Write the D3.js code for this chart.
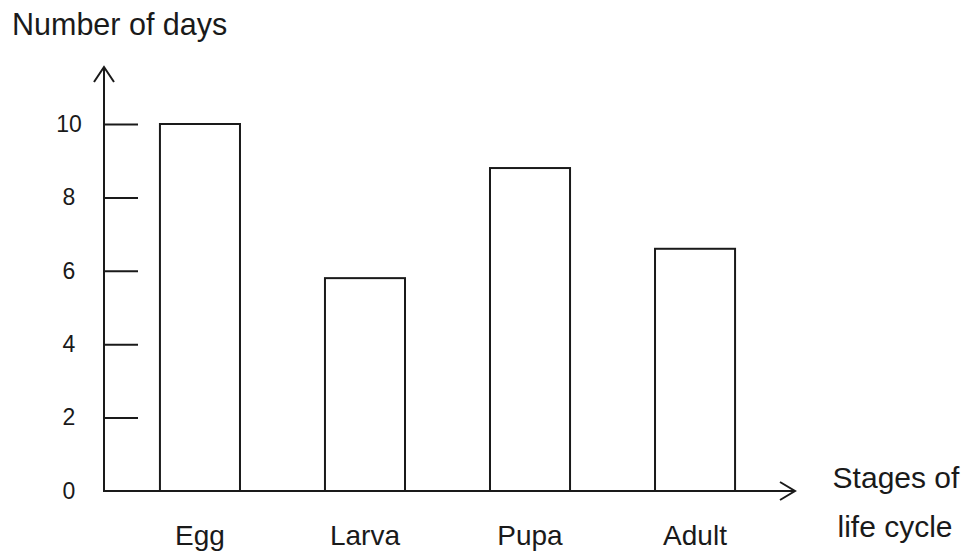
<!DOCTYPE html>
<html>

<head>
    <meta charset="utf-8">
    <style>
        body {
            margin: 0;
            background: white;
            font-family: 'Liberation Sans', Arial, sans-serif;
        }

        svg {
            display: block;
        }

        .tick line {
            stroke: #1a1a1a;
            stroke-width: 2;
        }

        .tick text {
            font-size: 23px;
            fill: #1a1a1a;
        }
    </style>
</head>

<body>
    <svg width="972" height="557"></svg>
</body>

<script src="https://d3js.org/d3.v7.min.js"></script>

<script>
    // stages and days
    let stages = ["Egg", "Larva", "Pupa", "Adult"]
    let days = [10, 5.8, 8.8, 6.6]
    let yTicks = [0, 2, 4, 6, 8, 10]

    let svg = d3.select("svg")
    let ink = "#1a1a1a"

    let x0 = 104
    let baseY = 491

    let x = d3.scaleBand()
        .domain(stages)
        .range([x0, 791])
        .paddingInner(0.515)
        .paddingOuter(0.339)

    let y = d3.scaleLinear()
        .domain([0, 10])
        .range([baseY, 124])

    // y ticks point into the plot, labels sit left of the axis
    let yAxis = svg.append("g")
        .attr("transform", "translate(" + x0 + ",0)")
        .call(d3.axisLeft(y).tickValues(yTicks).tickSize(-34).tickSizeOuter(0))

    yAxis.select(".domain").remove()
    yAxis.selectAll(".tick line").filter(d => d == 0).remove()
    yAxis.selectAll(".tick text")
        .attr("x", -35)
        .attr("text-anchor", "middle")
        .attr("font-family", null)

    // bars
    svg.append("g")
        .selectAll("rect")
        .data(stages)
        .join("rect")
        .attr("x", d => x(d))
        .attr("y", (d, i) => y(days[i]))
        .attr("width", x.bandwidth())
        .attr("height", (d, i) => baseY - y(days[i]))
        .attr("fill", "white")
        .attr("stroke", ink)
        .attr("stroke-width", 2)

    // axes with open arrow heads
    svg.append("line")
        .attr("x1", x0).attr("y1", baseY + 1)
        .attr("x2", x0).attr("y2", 67)
        .attr("stroke", ink).attr("stroke-width", 2)

    svg.append("path")
        .attr("d", "M" + (x0 - 10) + ",82L" + x0 + ",67L" + (x0 + 10) + ",82")
        .attr("fill", "none").attr("stroke", ink).attr("stroke-width", 2)

    svg.append("line")
        .attr("x1", x0 - 1).attr("y1", baseY)
        .attr("x2", 795).attr("y2", baseY)
        .attr("stroke", ink).attr("stroke-width", 2)

    svg.append("path")
        .attr("d", "M780," + (baseY - 9) + "L795," + baseY + "L780," + (baseY + 9))
        .attr("fill", "none").attr("stroke", ink).attr("stroke-width", 2)

    // category labels
    svg.append("g")
        .selectAll("text")
        .data(stages)
        .join("text")
        .attr("x", d => x(d) + x.bandwidth() / 2)
        .attr("y", 545)
        .attr("text-anchor", "middle")
        .attr("font-size", 28)
        .attr("fill", ink)
        .text(d => d)

    // titles
    svg.append("text")
        .attr("x", 12)
        .attr("y", 35)
        .attr("font-size", 30.5)
        .attr("fill", ink)
        .text("Number of days")

    svg.append("text")
        .attr("x", 896)
        .attr("y", 488)
        .attr("text-anchor", "middle")
        .attr("font-size", 30)
        .attr("fill", ink)
        .text("Stages of")

    svg.append("text")
        .attr("x", 895)
        .attr("y", 537)
        .attr("text-anchor", "middle")
        .attr("font-size", 30)
        .attr("fill", ink)
        .text("life cycle")
</script>

</html>
